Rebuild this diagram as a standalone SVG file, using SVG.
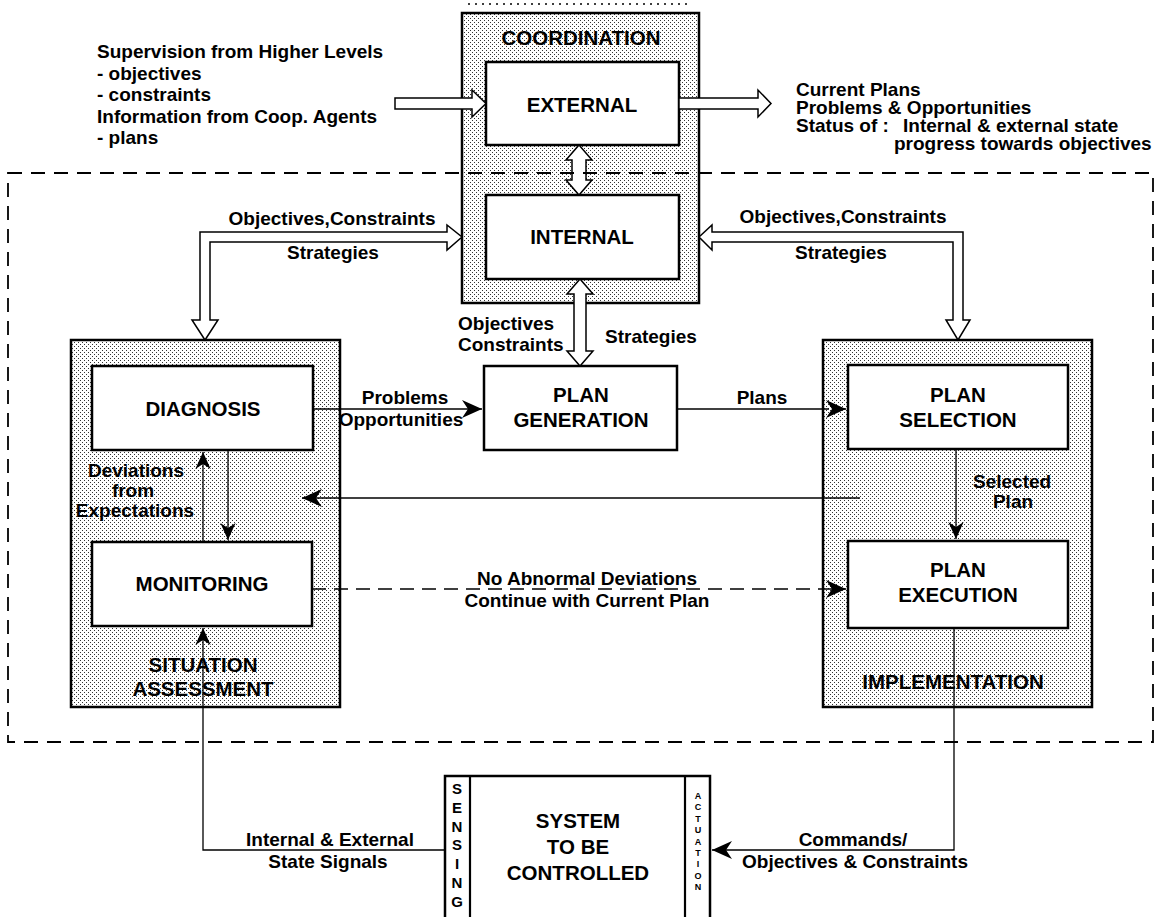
<svg xmlns="http://www.w3.org/2000/svg" width="1163" height="917" viewBox="0 0 1163 917">
  <defs>
    <!-- fine dot screen used for the grouping panels -->
    <pattern id="stipple" width="4" height="4" patternUnits="userSpaceOnUse">
      <rect width="4" height="4" fill="#fff"/>
      <rect x="0" y="0" width="1" height="1" fill="#333"/>
      <rect x="2" y="2" width="1" height="1" fill="#333"/>
    </pattern>
    <!-- barbed arrowhead -->
    <marker id="barb" viewBox="0 0 20 20" refX="20" refY="10" markerWidth="20" markerHeight="20" markerUnits="userSpaceOnUse" orient="auto">
      <path d="M0,1 L20,10 L0,19 L6,10 z" fill="#000"/>
    </marker>
    <marker id="barbS" viewBox="0 0 20 20" refX="20" refY="10" markerWidth="17" markerHeight="17" markerUnits="userSpaceOnUse" orient="auto">
      <path d="M0,1 L20,10 L0,19 L6,10 z" fill="#000"/>
    </marker>
  </defs>
  <style>
    .box { fill: #fff; stroke: #000; stroke-width: 2.5; }
    .panel { fill: url(#stipple); stroke: #000; stroke-width: 2.5; }
    .hollow { fill: #fff; stroke: #000; stroke-width: 1.5; stroke-linejoin: miter; }
    .line { fill: none; stroke: #000; stroke-width: 1.3; }
    .dash { stroke-dasharray: 14 8; }
    text { font-family: "Liberation Sans", Arial, Helvetica, sans-serif; font-weight: bold; fill: #000; }
    .t { font-size: 20.5px; text-anchor: middle; }
    .l { font-size: 19px; }
    .c { text-anchor: middle; }
    .sense { font-size: 15px; text-anchor: middle; }
    .act { font-size: 9px; text-anchor: middle; }
  </style>

  <rect width="1163" height="917" fill="#fff"/>

  <!-- inputs from above -->
  <g id="supervision-text">
    <text class="l" x="97" y="58">Supervision from Higher Levels</text>
    <text class="l" x="97" y="79.5">-  objectives</text>
    <text class="l" x="97" y="101">-  constraints</text>
    <text class="l" x="97" y="122.5">Information from Coop. Agents</text>
    <text class="l" x="97" y="144">-  plans</text>
  </g>

  <!-- reports upward -->
  <g id="status-text">
    <text class="l" x="796" y="96">Current Plans</text>
    <text class="l" x="796" y="114">Problems &amp; Opportunities</text>
    <text class="l" x="796" y="132">Status of :</text>
    <text class="l" x="903" y="132">Internal &amp; external state</text>
    <text class="l" x="894" y="150">progress towards objectives</text>
  </g>

  <!-- coordination block -->
  <g id="coordination">
    <line x1="468" y1="4" x2="690" y2="4" stroke="#000" stroke-width="1.5" stroke-dasharray="2 5"/>
    <rect class="panel" x="462" y="13" width="237" height="290"/>
    <text class="t" x="581" y="45">COORDINATION</text>
  </g>
  <g id="external">
    <rect class="box" x="486" y="62" width="193" height="83"/>
    <text class="t" x="582" y="112">EXTERNAL</text>
  </g>
  <g id="internal">
    <rect class="box" x="486" y="195" width="193" height="84"/>
    <text class="t" x="582" y="244">INTERNAL</text>
  </g>

  <!-- situation assessment block -->
  <g id="situation-assessment">
    <rect class="panel" x="71" y="340" width="269" height="367"/>
    <text class="t" x="203" y="672">SITUATION</text>
    <text class="t" x="203" y="696">ASSESSMENT</text>
  </g>
  <g id="diagnosis">
    <rect class="box" x="92" y="366" width="221" height="84"/>
    <text class="t" x="203" y="416">DIAGNOSIS</text>
  </g>
  <g id="monitoring">
    <rect class="box" x="92" y="542" width="220" height="84"/>
    <text class="t" x="202" y="591">MONITORING</text>
  </g>

  <!-- plan generation -->
  <g id="plan-generation">
    <rect class="box" x="484" y="366" width="193" height="84"/>
    <text class="t" x="581" y="402">PLAN</text>
    <text class="t" x="581" y="427">GENERATION</text>
  </g>

  <!-- implementation block -->
  <g id="implementation">
    <rect class="panel" x="823" y="340" width="269" height="367"/>
    <text class="t" x="953" y="689">IMPLEMENTATION</text>
  </g>
  <g id="plan-selection">
    <rect class="box" x="848" y="365" width="220" height="84"/>
    <text class="t" x="958" y="402">PLAN</text>
    <text class="t" x="958" y="427">SELECTION</text>
  </g>
  <g id="plan-execution">
    <rect class="box" x="848" y="541" width="220" height="87"/>
    <text class="t" x="958" y="577">PLAN</text>
    <text class="t" x="958" y="602">EXECUTION</text>
  </g>

  <!-- controlled system -->
  <g id="system">
    <rect class="box" x="445" y="776" width="265" height="160"/>
    <line x1="470" y1="776" x2="470" y2="917" stroke="#000" stroke-width="2.2"/>
    <line x1="685" y1="776" x2="685" y2="917" stroke="#000" stroke-width="2.2"/>
    <text class="t" x="578" y="828">SYSTEM</text>
    <text class="t" x="578" y="854">TO BE</text>
    <text class="t" x="578" y="880">CONTROLLED</text>
    <text class="sense" x="457" y="794">S</text>
    <text class="sense" x="457" y="813">E</text>
    <text class="sense" x="457" y="832">N</text>
    <text class="sense" x="457" y="850">S</text>
    <text class="sense" x="457" y="869">I</text>
    <text class="sense" x="457" y="888">N</text>
    <text class="sense" x="457" y="907">G</text>
    <text class="act" x="698" y="799">A</text>
    <text class="act" x="698" y="810">C</text>
    <text class="act" x="698" y="822">T</text>
    <text class="act" x="698" y="833">U</text>
    <text class="act" x="698" y="845">A</text>
    <text class="act" x="698" y="856">T</text>
    <text class="act" x="698" y="867">I</text>
    <text class="act" x="698" y="879">O</text>
    <text class="act" x="698" y="890">N</text>
  </g>

  <!-- connectors -->
  <g id="connectors">
    <!-- broad hollow arrows -->
    <polygon class="hollow" points="395,98 472,98 472,90 486,103.5 472,117 472,109 395,109"/>
    <polygon class="hollow" points="679,98 758,98 758,90 771,103.5 758,117 758,109 679,109"/>
    <polygon class="hollow" points="579,145 592,160 586,160 586,180 592,180 579,195 566,180 572,180 572,160 566,160"/>
    <polygon class="hollow" points="580,279 593,294 586,294 586,351 593,351 580,366 567,351 574,351 574,294 567,294"/>
    <polygon class="hollow" points="462,237 447,250 447,242 210,242 210,320 218,320 205,340 192,320 200,320 200,232 447,232 447,225"/>
    <polygon class="hollow" points="699,237 712,225 712,232 963,232 963,320 970,320 958,340 946,320 953,320 953,242 712,242 712,250"/>

    <!-- thin arrows -->
    <path class="line" d="M313,409 H482" marker-end="url(#barb)"/>
    <path class="line" d="M677,409 H815"/>
    <path class="line dash" d="M815,409 H846" marker-end="url(#barb)"/>
    <path class="line" d="M956,449 V539" marker-end="url(#barbS)"/>
    <path class="line" d="M860,498 H302" marker-end="url(#barb)"/>
    <path class="line" d="M203,542 V452" marker-end="url(#barbS)"/>
    <path class="line" d="M228,450 V540" marker-end="url(#barbS)"/>
    <path class="line dash" d="M312,589 H846" marker-end="url(#barb)"/>
    <path class="line" d="M445,850 H203 V628" marker-end="url(#barbS)"/>
    <path class="line" d="M954,628 V850 H712" marker-end="url(#barb)"/>

    <!-- connector labels -->
    <text class="l c" x="332" y="225">Objectives,Constraints</text>
    <text class="l c" x="333" y="259">Strategies</text>
    <text class="l c" x="843" y="223">Objectives,Constraints</text>
    <text class="l c" x="841" y="259">Strategies</text>
    <text class="l" x="458" y="330">Objectives</text>
    <text class="l" x="458" y="351">Constraints</text>
    <text class="l" x="605" y="343">Strategies</text>
    <text class="l c" x="405" y="404">Problems</text>
    <text class="l c" x="401" y="426">Opportunities</text>
    <text class="l c" x="762" y="404">Plans</text>
    <text class="l" x="973" y="488">Selected</text>
    <text class="l c" x="1013" y="508">Plan</text>
    <text class="l c" x="136" y="477">Deviations</text>
    <text class="l c" x="133" y="497">from</text>
    <text class="l c" x="135" y="517">Expectations</text>
    <text class="l c" x="587" y="585">No Abnormal Deviations</text>
    <text class="l c" x="587" y="607">Continue with Current Plan</text>
    <text class="l c" x="330" y="846">Internal &amp; External</text>
    <text class="l c" x="328" y="868">State Signals</text>
    <text class="l c" x="853" y="846">Commands/</text>
    <text class="l c" x="855" y="868">Objectives &amp; Constraints</text>
  </g>

  <!-- boundary of the local controller -->
  <rect id="controller-boundary" x="8" y="173" width="1145" height="569" fill="none" stroke="#000" stroke-width="1.8" stroke-dasharray="14 9"/>
</svg>
